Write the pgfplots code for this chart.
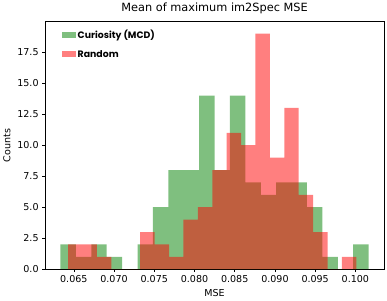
\documentclass[border=0pt]{standalone}
\usepackage{fontspec}
\setmainfont{DejaVu Sans}
\newfontfamily\legfont{Poppins}
\usepackage{pgfplots}
\pgfplotsset{compat=1.18}
\definecolor{mgreen}{RGB}{0,128,0}
\definecolor{mred}{RGB}{255,0,0}
\begin{document}
\begin{tikzpicture}[x=1pt,y=1pt]
\begin{axis}[
  name=ax,
  scale only axis,
  width=341pt, height=249pt,
  xmin=0.06143, xmax=0.10356,
  ymin=0, ymax=19.95,
  axis line style={line width=0.6pt},
  tick align=outside,
  major tick length=3pt,
  tick style={line width=0.6pt, black},
  xtick pos=bottom, ytick pos=left,
  xtick={0.065,0.070,0.075,0.080,0.085,0.090,0.095,0.100},
  xticklabels={0.065,0.070,0.075,0.080,0.085,0.090,0.095,0.100},
  ytick={0,2.5,5,7.5,10,12.5,15,17.5},
  yticklabels={0.0,2.5,5.0,7.5,10.0,12.5,15.0,17.5},
  tick label style={font=\fontsize{9.6}{11}\selectfont},
  xlabel={MSE}, ylabel={Counts},
  label style={font=\fontsize{9.6}{11}\selectfont},
  title={Mean of maximum im2Spec MSE},
  title style={font=\fontsize{11.4}{13}\selectfont, yshift=-2pt},
  legend style={draw=none, fill=none, at={(0.04,0.985)}, anchor=north west,
    font=\legfont\bfseries\fontsize{9.4}{11}\selectfont, row sep=6.5pt},
  legend cell align=left,
  legend image code/.code={\fill[#1] (0pt,-3pt) rectangle (14pt,3pt);},
]
\addplot[ybar interval, fill=mgreen, fill opacity=0.5, draw=none] coordinates {
(0.063345,2) (0.065260,1) (0.067175,2) (0.069090,1) (0.071005,0)
(0.072920,2) (0.074834,5) (0.076749,8) (0.078664,8) (0.080579,14)
(0.082494,8) (0.084409,14) (0.086324,7) (0.088239,6) (0.090154,7)
(0.092069,7) (0.093983,5) (0.095898,1) (0.097813,0) (0.099728,2)
(0.101643,0)};
\addlegendentry{Curiosity (MCD)}
\addplot[ybar interval, fill=mred, fill opacity=0.5, draw=none] coordinates {
(0.064300,2) (0.066091,2) (0.067882,1) (0.069673,0) (0.071464,0)
(0.073255,3) (0.075046,2) (0.076837,1) (0.078628,4) (0.080419,5)
(0.082210,8) (0.084001,11) (0.085792,10) (0.087583,19) (0.089374,9)
(0.091165,13) (0.092956,6) (0.094747,3) (0.096538,0) (0.098329,1)
(0.100120,0)};
\addlegendentry{Random}
\end{axis}
\path (ax.south west) ++(-43pt,-31pt) rectangle ++(387pt,300pt);
\end{tikzpicture}
\end{document}
